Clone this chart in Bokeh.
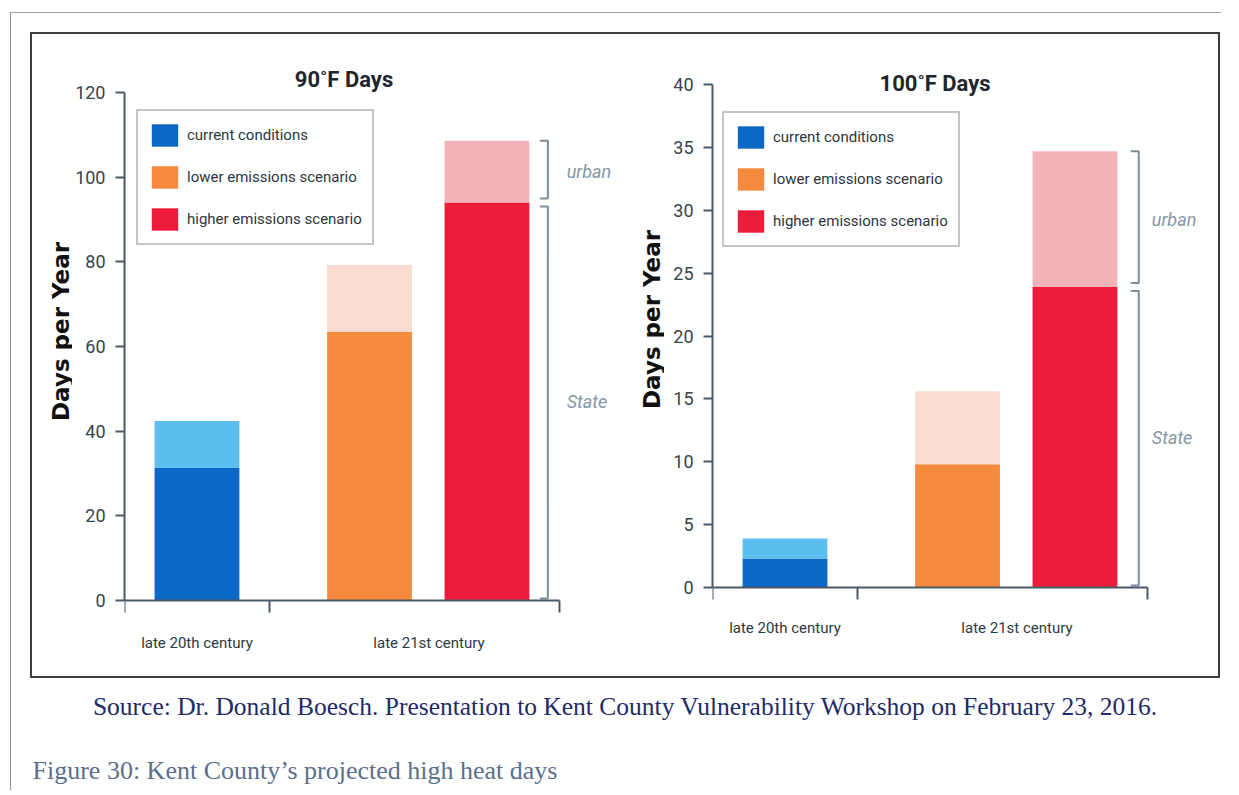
import math
from bokeh.plotting import figure
from bokeh.models import Range1d, FixedTicker, Legend, LegendItem, Label
from bokeh.layouts import column, row
from bokeh.core.properties import value
from bokeh.embed import file_html
from bokeh.resources import INLINE

# ---------------- data ----------------
periods = ["late 20th century", "late 21st century"]
scenarios = ["current conditions", "lower emissions scenario", "higher emissions scenario"]
days90_state = [31.3, 63.5, 94.0]
days90_total = [42.4, 79.3, 108.6]
days100_state = [2.3, 9.8, 23.9]
days100_total = [3.9, 15.6, 34.7]
ticks90 = [0, 20, 40, 60, 80, 100, 120]
ticks100 = [0, 5, 10, 15, 20, 25, 30, 35, 40]
titles = ["90\u02daF Days", "100\u02daF Days"]
y_label = "Days per Year"
bracket_labels = ["urban", "State"]
source_text = "Source: Dr. Donald Boesch. Presentation to Kent County Vulnerability Workshop on February 23, 2016."
caption_text = "Figure 30: Kent County\u2019s projected high heat days"

# ---------------- layout / style ----------------
bar_x = [0.5, 1.69, 2.5]
bar_w = 0.585
period_x = [0.5, 2.1]
period_edges = [0, 1, 3]
state_colors = ["#0b68c5", "#f5893d", "#ec1c3a"]
urban_colors = ["#5cbff0", "#f9dccf", "#f3b3b9"]
NARROW = "Roboto"
AXIS_COL = "#4b5966"
H = 642
TOP = 28
BOTTOM = 20
FRAME_H = H - TOP - BOTTOM


def label_strip(width, text_x, text_y):
    """A narrow figure that carries the rotated y-axis title."""
    q = figure(width=width, height=H, x_range=Range1d(0, width), y_range=Range1d(0, FRAME_H),
               output_backend="svg", toolbar_location=None, min_border_left=0,
               min_border_right=0, min_border_top=TOP, min_border_bottom=BOTTOM)
    q.axis.visible = False
    q.grid.visible = False
    q.outline_line_color = None
    q.text(x=[text_x], y=[text_y], text=[y_label], angle=math.pi / 2,
           text_font=value("DejaVu Sans"), text_font_style="bold", text_font_size="23px",
           text_color="#111111", text_align="center", text_baseline="middle")
    return q


def build(title, title_x, title_y, state, total, yticks, y_start, y_end, width, mbl,
          xstd, legend_loc, bracket_x, text_x):
    p = figure(width=width, height=H, x_range=Range1d(0, 3.49), y_range=Range1d(y_start, y_end),
               output_backend="svg", toolbar_location=None,
               min_border_left=mbl, min_border_right=0, min_border_top=TOP,
               min_border_bottom=BOTTOM)
    p.outline_line_color = None
    p.grid.visible = False
    p.background_fill_color = "white"
    p.border_fill_color = "white"

    r_state = p.vbar(x=bar_x, width=bar_w, bottom=0, top=state, fill_color=state_colors,
                     line_color=None)
    p.vbar(x=bar_x, width=bar_w, bottom=state, top=total, fill_color=urban_colors,
           line_color=None)

    # brackets beside the higher scenario bar
    upx = (y_end - y_start) / FRAME_H
    hook = 8 / 145.3
    hi_s, hi_t = state[2], total[2]
    bx = bracket_x
    p.multi_line(xs=[[bx - hook, bx, bx, bx - hook], [bx - hook, bx, bx, bx - hook]],
                 ys=[[hi_t, hi_t, hi_s + 4 * upx, hi_s + 4 * upx],
                     [hi_s - 4 * upx, hi_s - 4 * upx, 2 * upx, 2 * upx]],
                 line_color="#7f8d9b", line_width=2)
    p.text(x=[text_x, text_x], y=[(hi_t + hi_s) / 2, hi_s / 2], text=bracket_labels,
           text_font=value(NARROW), text_font_style="italic", text_font_size="18px",
           text_color="#8796a4", text_align="left", text_baseline="middle")

    p.text(x=[title_x], y=[title_y], text=[title], text_font=value(NARROW),
           text_font_style="bold", text_font_size="22px", text_color="#1f262d",
           text_align="center", text_baseline="middle")

    # x axis, pinned at zero
    xa = p.xaxis[0]
    xa.fixed_location = 0
    xa.ticker = FixedTicker(ticks=period_x, minor_ticks=period_edges)
    xa.major_label_overrides = {period_x[0]: periods[0], period_x[1]: periods[1]}
    xa.bounds = (0, 3)
    xa.axis_line_color = AXIS_COL
    xa.axis_line_width = 2
    xa.major_tick_line_color = None
    xa.major_tick_out = 0
    xa.major_tick_in = 0
    xa.minor_tick_line_color = AXIS_COL
    xa.minor_tick_line_width = 2
    xa.minor_tick_out = 12
    xa.minor_tick_in = 0
    xa.major_label_standoff = xstd
    xa.major_label_text_font = NARROW
    xa.major_label_text_font_size = "15px"
    xa.major_label_text_color = "#2d3944"

    # y axis
    ya = p.yaxis[0]
    ya.ticker = FixedTicker(ticks=yticks, minor_ticks=[])
    ya.bounds = (0, yticks[-1])
    ya.axis_line_color = AXIS_COL
    ya.axis_line_width = 2
    ya.major_tick_line_color = AXIS_COL
    ya.major_tick_line_width = 2
    ya.major_tick_out = 9
    ya.major_tick_in = 0
    ya.major_label_standoff = 10
    ya.major_label_text_font = NARROW
    ya.major_label_text_font_size = "18px"
    ya.major_label_text_color = "#37434e"

    legend = Legend(items=[LegendItem(label=scenarios[i], renderers=[r_state], index=i)
                           for i in range(3)],
                    location=legend_loc)
    legend.label_text_font = NARROW
    legend.label_text_font_size = "15px"
    legend.label_text_color = "#2b3640"
    legend.glyph_width = 33
    legend.glyph_height = 28
    legend.label_height = 28
    legend.label_standoff = 6
    legend.spacing = 14
    legend.padding = 10
    legend.margin = 0
    legend.border_line_color = "#8c8c8c"
    legend.border_line_width = 2
    legend.background_fill_color = "white"
    legend.background_fill_alpha = 1
    p.add_layout(legend)
    return p


s1 = label_strip(40, 28, 325)
p1 = build(titles[0], 1.514, 123.1, days90_state, days90_total, ticks90, -13.23, 127.09,
           558, 51, 22, (12, 411), 2.92, 3.05)
s2 = label_strip(34, 21, 337)
p2 = build(titles[1], 1.535, 40.1, days100_state, days100_total, ticks100, -5.487, 41.75,
           554, 48, 19, (10, 409), 2.94, 3.03)

box = row(s1, p1, s2, p2, margin=(19, 0, 0, 19),
          styles={"border": "2px solid #3d3d3d"})

P3H = 112
p3 = figure(width=1210, height=P3H, x_range=Range1d(0, 1210), y_range=Range1d(0, P3H),
            output_backend="svg", toolbar_location=None, min_border=0)
p3.axis.visible = False
p3.grid.visible = False
p3.outline_line_color = None
p3.add_layout(Label(x=614, y=P3H - 28, text=source_text, text_font="Liberation Serif",
                    text_font_size="25.5px", text_color="#1f2a68", text_align="center",
                    text_baseline="middle"))
p3.add_layout(Label(x=21, y=P3H - 92, text=caption_text, text_font="Liberation Serif",
                    text_font_size="26px", text_color="#5b6f8c", text_align="left",
                    text_baseline="middle"))

outer = column(box, p3, margin=(12, 0, 0, 10),
               styles={"border-left": "1px solid #8a96a2", "border-top": "1px solid #9aa4ae"})

open("out.html", "w").write(file_html(outer, INLINE))
